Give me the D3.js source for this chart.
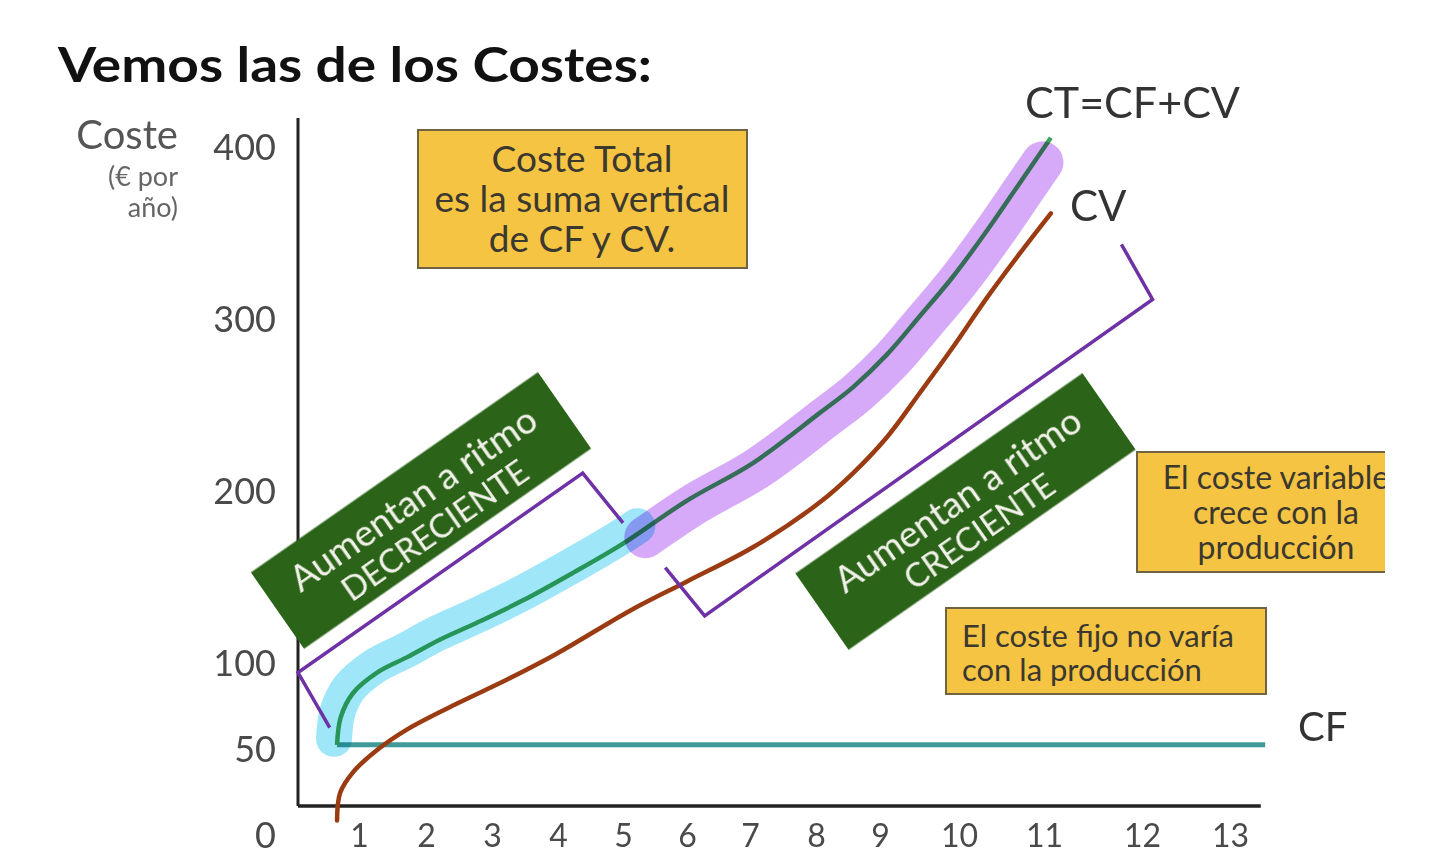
<!DOCTYPE html>
<html>
<head>
<meta charset="utf-8">
<script src="https://cdn.jsdelivr.net/npm/d3@7/dist/d3.min.js"></script>
<style>
  html, body { margin: 0; padding: 0; background: #ffffff; }
  svg { display: block; }
  text { font-family: Lato, "Open Sans", sans-serif; }
</style>
</head>
<body>
<script>
// ---------------- DATA ----------------
const xTickValues = [1, 2, 3, 4, 5, 6, 7, 8, 9, 10, 11, 12, 13];
const yTickValues = [0, 50, 100, 200, 300, 400];

// Coste fijo (CF)
const quantityCF = [0.64, 13.4];
const costCF     = [53, 53];

// Coste variable (CV)
const quantityCV = [0.64, 0.69, 0.9, 1.27, 1.72, 2.47, 3.23, 3.98, 5.11, 6, 7.05, 8.06, 8.58, 9.09, 9.51, 9.92, 10.33, 10.72, 11.07];
const costCV     = [9, 25, 37, 50, 62, 77, 91, 106, 131, 148, 168, 194, 211, 232, 258, 284, 313, 339, 362];

// Coste total (CT = CF + CV)
const quantityCT = [0.64, 0.7, 0.9, 1.27, 1.72, 2.2, 2.77, 3.47, 4.23, 5, 6, 7.05, 8.06, 8.58, 9.09, 9.5, 9.92, 10.33, 10.72, 11.07];
const costCT     = [53, 69, 83, 95, 104, 114, 124, 137, 153, 170, 195, 217, 246, 261, 280, 302, 325, 352, 380, 406];

// Quantity where the highlight changes from "decreciente" to "creciente"
const highlightSplitQ = 5.27;

// Brackets (quantity, cost)
const bracketLeftQ  = [0.52, 0, 4.38, 5.0];
const bracketLeftC  = [63, 95, 211, 182];
const bracketRightQ = [5.66, 6.28, 12.12, 11.79];
const bracketRightC = [156, 128, 312, 344];

// Texts
const titleText = "Vemos las de los Costes:";
const boxTotalLines = ["Coste Total", "es la suma vertical", "de CF y CV."];
const boxVarLines = ["El coste variable", "crece con la", "producción"];
const boxFixLines = ["El coste fijo no varía", "con la producción"];
const greenLeftLines = ["Aumentan a ritmo", "DECRECIENTE"];
const greenRightLines = ["Aumentan a ritmo", "CRECIENTE"];

// ---------------- CHART ----------------
const W = 1440, H = 855;
const svg = d3.select("body").append("svg").attr("width", W).attr("height", H);
svg.append("rect").attr("width", W).attr("height", H).attr("fill", "#fff");

// hand-drawn axis: tick spacing is uneven in the original slide
const x = d3.scaleLinear()
  .domain([0, 1, 2, 3, 4, 5, 6, 7, 8, 9, 10, 11, 12, 13])
  .range([298, 359, 426, 492, 558, 623, 687, 750, 816, 880, 959, 1044, 1142, 1230]);
const y = d3.scaleLinear().domain([0, 400]).range([836, 148]);

const zip = (qs, cs) => qs.map((q, i) => ({ q, c: cs[i] }));
const line = d3.line().x(d => x(d.q)).y(d => y(d.c)).curve(d3.curveCatmullRom.alpha(0.5));
const poly = d3.line().x(d => x(d.q)).y(d => y(d.c));

const axisY0 = 806;   // baseline of drawn x-axis
const axisTop = 118;

// Title
svg.append("text").attr("x", 58).attr("y", 82)
  .attr("font-size", 48).attr("font-weight", 700).attr("fill", "#111")
  .attr("textLength", 594).attr("lengthAdjust", "spacingAndGlyphs")
  .text(titleText);

// Y-axis title
svg.append("text").attr("x", 178).attr("y", 149).attr("text-anchor", "end")
  .attr("font-size", 40).attr("fill", "#555").text("Coste");
svg.append("text").attr("x", 178).attr("y", 186).attr("text-anchor", "end")
  .attr("font-size", 27).attr("fill", "#666").text("(€ por");
svg.append("text").attr("x", 178).attr("y", 217).attr("text-anchor", "end")
  .attr("font-size", 27).attr("fill", "#666").text("año)");

// Y ticks
const gy = svg.append("g").attr("transform", `translate(${x(0)},0)`)
  .call(d3.axisLeft(y).tickValues(yTickValues).tickSize(0).tickPadding(22).tickFormat(d3.format("d")));
gy.select(".domain").remove();
gy.selectAll("text").attr("font-size", 36).attr("fill", "#4a4a4a")
  .attr("font-family", "Lato, sans-serif");

// X ticks
const gx = svg.append("g").attr("transform", `translate(0,${axisY0})`)
  .call(d3.axisBottom(x).tickValues(xTickValues).tickSize(0).tickPadding(18).tickFormat(d3.format("d")));
gx.select(".domain").remove();
gx.selectAll("text").attr("font-size", 32).attr("fill", "#4a4a4a")
  .attr("font-family", "Lato, sans-serif");

// Axis lines
svg.append("line").attr("x1", x(0)).attr("x2", x(0)).attr("y1", axisTop).attr("y2", axisY0)
  .attr("stroke", "#222").attr("stroke-width", 3);
svg.append("line").attr("x1", x(0)).attr("x2", x(13.35)).attr("y1", axisY0).attr("y2", axisY0)
  .attr("stroke", "#222").attr("stroke-width", 3.5);

// Curves
svg.append("path").datum(zip(quantityCF, costCF)).attr("d", poly)
  .attr("fill", "none").attr("stroke", "#3f9a98").attr("stroke-width", 5);
svg.append("path").datum(zip(quantityCV, costCV)).attr("d", line)
  .attr("fill", "none").attr("stroke", "#9a3b12").attr("stroke-width", 4.5).attr("stroke-linecap", "round");
const ctPath = svg.append("path").datum(zip(quantityCT, costCT)).attr("d", line)
  .attr("fill", "none").attr("stroke", "#3fa45a").attr("stroke-width", 4.5);

// Highlights over CT (multiply blend, as a highlighter pen)
const node = ctPath.node();
const total = node.getTotalLength();
const splitX = x(highlightSplitQ);
let lo = 0, hi = total;
for (let i = 0; i < 40; i++) {
  const mid = (lo + hi) / 2;
  if (node.getPointAtLength(mid).x < splitX) lo = mid; else hi = mid;
}
const L1 = (lo + hi) / 2;

svg.append("path").datum(zip(quantityCT, costCT)).attr("d", line)
  .attr("transform", "translate(-3,-6)")
  .attr("fill", "none").attr("stroke", "#9ee6f8").attr("stroke-width", 36)
  .attr("stroke-linecap", "round").attr("stroke-linejoin", "round")
  .attr("stroke-dasharray", `${L1} ${total * 2}`)
  .style("mix-blend-mode", "multiply");

const purpleLen = total - L1 - 24;
svg.append("path").datum(zip(quantityCT, costCT)).attr("d", line)
  .attr("transform", "translate(5,5)")
  .attr("fill", "none").attr("stroke", "#d6aaf8").attr("stroke-width", 42)
  .attr("stroke-linecap", "round").attr("stroke-linejoin", "round")
  .attr("stroke-dasharray", `${purpleLen} ${total * 2}`)
  .attr("stroke-dashoffset", -L1)
  .style("mix-blend-mode", "multiply");

// Brackets
[[bracketLeftQ, bracketLeftC], [bracketRightQ, bracketRightC]].forEach(([qs, cs]) => {
  svg.append("path").datum(zip(qs, cs)).attr("d", poly)
    .attr("fill", "none").attr("stroke", "#6e32a6").attr("stroke-width", 3.5)
    .attr("stroke-linejoin", "miter");
});

// Green rotated labels
function greenBox(cx, cy, lines) {
  const g = svg.append("g").attr("transform", `translate(${cx},${cy}) rotate(-34.9)`);
  g.append("rect").attr("x", -175).attr("y", -46.5).attr("width", 350).attr("height", 93)
    .attr("fill", "#2b6418");
  g.append("text").attr("x", 0).attr("y", -1).attr("text-anchor", "middle")
    .attr("font-size", 37).attr("fill", "#f2f2ea").text(lines[0]);
  g.append("text").attr("x", 0).attr("y", 36).attr("text-anchor", "middle")
    .attr("font-size", 33).attr("fill", "#f2f2ea").text(lines[1]);
}
greenBox(421, 510.5, greenLeftLines);
greenBox(965.5, 511.5, greenRightLines);

// Yellow boxes
const clip = svg.append("defs").append("clipPath").attr("id", "cut");
clip.append("rect").attr("x", 0).attr("y", 0).attr("width", 1385).attr("height", H);

function yellowBox(x0, y0, w, h, lines, opt) {
  const g = svg.append("g").attr("clip-path", "url(#cut)");
  g.append("rect").attr("x", x0).attr("y", y0).attr("width", w).attr("height", h)
    .attr("fill", "#f5c443").attr("stroke", "#6e6444").attr("stroke-width", 2);
  lines.forEach((t, i) => {
    g.append("text").attr("x", opt.tx).attr("y", opt.ty + i * opt.lh)
      .attr("text-anchor", opt.anchor).attr("font-size", opt.fs)
      .attr("fill", "#3b382f").text(t);
  });
}
yellowBox(418, 130, 329, 138, boxTotalLines, { tx: 582, ty: 172, lh: 40, fs: 37, anchor: "middle" });
yellowBox(1137, 452, 260, 120, boxVarLines, { tx: 1276, ty: 489, lh: 35, fs: 32, anchor: "middle" });
yellowBox(946, 608, 320, 86, boxFixLines, { tx: 962, ty: 647, lh: 34, fs: 31, anchor: "start" });

// Curve labels
svg.append("text").attr("x", 1025).attr("y", 118).attr("font-size", 42).attr("fill", "#333")
  .attr("textLength", 215).attr("lengthAdjust", "spacingAndGlyphs").text("CT=CF+CV");
svg.append("text").attr("x", 1070).attr("y", 221).attr("font-size", 42).attr("fill", "#333").text("CV");
svg.append("text").attr("x", 1298).attr("y", 741).attr("font-size", 40).attr("fill", "#333").text("CF");
</script>
</body>
</html>
